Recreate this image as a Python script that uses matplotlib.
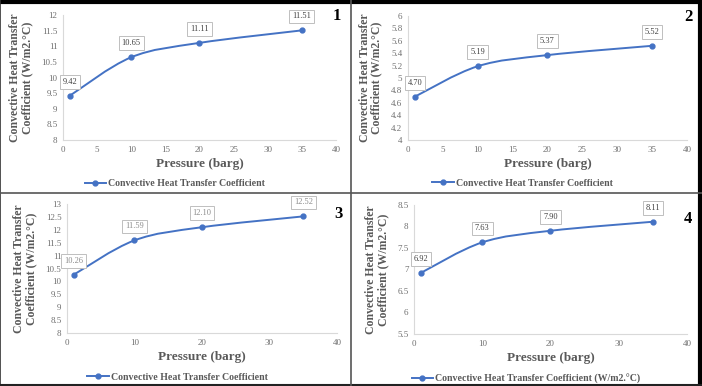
import matplotlib
matplotlib.use('Agg')
import matplotlib.pyplot as plt
from matplotlib.path import Path
from matplotlib.patches import PathPatch
from matplotlib.lines import Line2D
import numpy as np

# Chart data
pressure = [1, 10, 20, 35]
htc_1 = [9.42, 10.65, 11.11, 11.51]
htc_2 = [4.70, 5.19, 5.37, 5.52]
htc_3 = [10.26, 11.59, 12.10, 12.52]
htc_4 = [6.92, 7.63, 7.90, 8.11]

panel_ids = ['1', '2', '3', '4']
legend_texts = ['Convective Heat Transfer Coefficient',
                'Convective Heat Transfer Coefficient',
                'Convective Heat Transfer Coefficient',
                'Convective Heat Transfer Coefficient (W/m2.\u00b0C)']
y_label = 'Convective Heat Transfer\nCoefficient (W/m2.\u00b0C)'
x_label = 'Pressure (barg)'

SERIF = ['Liberation Serif', 'DejaVu Serif']
BLUE = '#4472C4'


def smooth_path(xs, ys):
    # Excel-style smoothed line: cubic Bezier segments through the points
    pts = np.column_stack([xs, ys]).astype(float)
    n = len(pts)
    verts = [pts[0]]
    codes = [Path.MOVETO]
    for i in range(n - 1):
        p0 = pts[max(i - 1, 0)]
        p1 = pts[i]
        p2 = pts[i + 1]
        p3 = pts[min(i + 2, n - 1)]
        c1 = p1 + (p2 - p0) / 6.0
        c2 = p2 - (p3 - p1) / 6.0
        verts += [c1, c2, p2]
        codes += [Path.CURVE4] * 3
    return Path(verts, codes)


def draw_panel(ax, ys, ylim, ystep, xstep, ident, id_y, legend_text, label_col):
    patch = PathPatch(smooth_path(pressure, ys), facecolor='none',
                      edgecolor=BLUE, lw=1.4, zorder=3)
    ax.add_patch(patch)
    ax.plot(pressure, ys, 'o', color=BLUE, ms=3.5, zorder=4)
    # legend proxy
    handle = Line2D([], [], color=BLUE, lw=1.4, marker='o', ms=3.5)

    ax.set_xlim(0, 40)
    ax.set_ylim(*ylim)
    ax.set_xticks(np.arange(0, 40.01, xstep))
    ax.set_yticks(np.arange(ylim[0], ylim[1] + 1e-9, ystep))
    ax.set_yticklabels(['%g' % round(v, 2) for v in ax.get_yticks()])
    for s in ['top', 'right']:
        ax.spines[s].set_visible(False)
    for s in ['left', 'bottom']:
        ax.spines[s].set_color('#d9d9d9')
        ax.spines[s].set_linewidth(0.8)
    ax.tick_params(length=0, labelsize=6.5, labelcolor='#6f6f6f', pad=4)
    for lab in ax.get_xticklabels() + ax.get_yticklabels():
        lab.set_fontfamily(SERIF)

    for x, y in zip(pressure, ys):
        ax.annotate('%.2f' % y, (x, y), xytext=(0, 10), textcoords='offset points',
                    ha='center', va='center', fontsize=6, color=label_col,
                    family=SERIF,
                    bbox=dict(boxstyle='square,pad=0.35', fc='white',
                              ec='#bfbfbf', lw=0.7))

    ax.set_xlabel(x_label, fontsize=9.5, fontweight='bold', color='#595959',
                  family=SERIF, labelpad=3)
    ax.set_ylabel(y_label, fontsize=8.5, fontweight='bold', color='#595959',
                  family=SERIF, labelpad=6, linespacing=1.0)
    ax.text(1.004, id_y, ident, transform=ax.transAxes, ha='center', va='center',
            fontsize=12, fontweight='bold', family=SERIF, color='black')
    leg = ax.legend([handle], [legend_text], loc='upper center',
                    bbox_to_anchor=(0.41, -0.24), frameon=False,
                    prop={'family': SERIF, 'size': 7.1, 'weight': 'bold'},
                    handlelength=2.2, handletextpad=0.2)
    for t in leg.get_texts():
        t.set_color('#595959')


fig = plt.figure(figsize=(7.02, 3.86), dpi=100)
fig.patch.set_facecolor('white')

ax1 = fig.add_axes([0.0897, 0.637, 0.3889, 0.324])
ax2 = fig.add_axes([0.581, 0.637, 0.3976, 0.3215])
ax3 = fig.add_axes([0.0954, 0.1373, 0.3846, 0.3342])
ax4 = fig.add_axes([0.5897, 0.1347, 0.3889, 0.3343])

draw_panel(ax1, htc_1, (8, 12), 0.5, 5, panel_ids[0], 0.99, legend_texts[0], '#404040')
draw_panel(ax2, htc_2, (4, 6), 0.2, 5, panel_ids[1], 0.99, legend_texts[1], '#404040')
draw_panel(ax3, htc_3, (8, 13), 0.5, 10, panel_ids[2], 0.92, legend_texts[2], '#8c8c8c')
draw_panel(ax4, htc_4, (5.5, 8.5), 0.5, 10, panel_ids[3], 0.89, legend_texts[3], '#404040')

# panel frame lines
fig.add_artist(Line2D([0, 1], [0.996, 0.996], transform=fig.transFigure, color='black', lw=3))
fig.add_artist(Line2D([0.0007, 0.0007], [0, 1], transform=fig.transFigure, color='#333333', lw=1.2))
fig.add_artist(Line2D([0.997, 0.997], [0, 1], transform=fig.transFigure, color='black', lw=3))
fig.add_artist(Line2D([0, 1], [0.003, 0.003], transform=fig.transFigure, color='#222222', lw=1.5))
fig.add_artist(Line2D([0.4993, 0.4993], [0, 1], transform=fig.transFigure, color='#555555', lw=1.2))
fig.add_artist(Line2D([0, 1], [0.5, 0.5], transform=fig.transFigure, color='#555555', lw=1.2))

fig.savefig('out.png', dpi=100)
